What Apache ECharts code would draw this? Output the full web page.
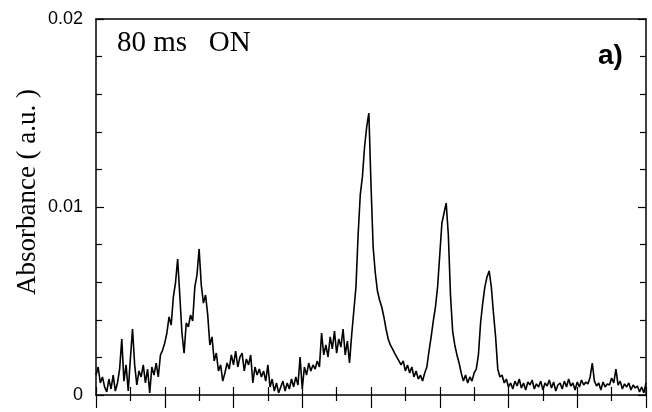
<!DOCTYPE html>
<html>
<head>
<meta charset="utf-8">
<script src="https://cdn.jsdelivr.net/npm/echarts@6/dist/echarts.min.js"></script>
<style>
  html, body { margin: 0; padding: 0; background: #fff; }
  #chart { width: 652px; height: 412px; }
</style>
</head>
<body>
<div id="chart"></div>
<script>
// absorbance trace, one sample per ~2 px along the x axis
const absorbance = [
  0.00106, 0.00149, 0.00064, 0.00096, 0.00043, 0.00016, 0.00085, 0.00032, 0.00106, 0.00021,
  0.00064, 0.00138, 0.00298, 0.00074, 0.00160, 0.00021, 0.00192, 0.00351, 0.00160, 0.00053,
  0.00128, 0.00096, 0.00160, 0.00064, 0.00138, 0.00011, 0.00149, 0.00106, 0.00170, 0.00096,
  0.00213, 0.00239, 0.00277, 0.00330, 0.00415, 0.00372, 0.00521, 0.00596, 0.00723, 0.00532,
  0.00330, 0.00223, 0.00383, 0.00362, 0.00426, 0.00394, 0.00575, 0.00638, 0.00777, 0.00585,
  0.00489, 0.00532, 0.00426, 0.00266, 0.00309, 0.00181, 0.00223, 0.00128, 0.00160, 0.00074,
  0.00117, 0.00170, 0.00138, 0.00213, 0.00160, 0.00234, 0.00149, 0.00202, 0.00223, 0.00128,
  0.00192, 0.00160, 0.00213, 0.00064, 0.00149, 0.00106, 0.00138, 0.00096, 0.00128, 0.00074,
  0.00160, 0.00043, 0.00085, 0.00021, 0.00064, 0.00011, 0.00043, 0.00074, 0.00021, 0.00064,
  0.00032, 0.00085, 0.00043, 0.00096, 0.00053, 0.00202, 0.00032, 0.00149, 0.00106, 0.00170,
  0.00128, 0.00160, 0.00138, 0.00181, 0.00149, 0.00330, 0.00213, 0.00266, 0.00202, 0.00309,
  0.00245, 0.00340, 0.00223, 0.00298, 0.00255, 0.00351, 0.00213, 0.00287, 0.00170, 0.00319,
  0.00447, 0.00575, 0.00851, 0.01064, 0.01160, 0.01319, 0.01426, 0.01500, 0.01117, 0.00787,
  0.00649, 0.00553, 0.00505, 0.00468, 0.00415, 0.00351, 0.00298, 0.00266, 0.00245, 0.00223,
  0.00202, 0.00181, 0.00160, 0.00181, 0.00128, 0.00160, 0.00117, 0.00149, 0.00096, 0.00128,
  0.00085, 0.00106, 0.00074, 0.00117, 0.00149, 0.00234, 0.00309, 0.00394, 0.00468, 0.00575,
  0.00745, 0.00915, 0.00968, 0.01021, 0.00851, 0.00532, 0.00340, 0.00266, 0.00213, 0.00170,
  0.00117, 0.00074, 0.00106, 0.00064, 0.00096, 0.00074, 0.00117, 0.00138, 0.00213, 0.00383,
  0.00489, 0.00575, 0.00628, 0.00660, 0.00575, 0.00436, 0.00309, 0.00138, 0.00096, 0.00106,
  0.00064, 0.00085, 0.00043, 0.00064, 0.00032, 0.00074, 0.00048, 0.00085, 0.00037, 0.00064,
  0.00027, 0.00069, 0.00053, 0.00080, 0.00032, 0.00059, 0.00043, 0.00074, 0.00027, 0.00064,
  0.00048, 0.00080, 0.00037, 0.00069, 0.00021, 0.00053, 0.00064, 0.00032, 0.00074, 0.00043,
  0.00085, 0.00048, 0.00064, 0.00027, 0.00069, 0.00043, 0.00080, 0.00053, 0.00069, 0.00059,
  0.00096, 0.00170, 0.00074, 0.00048, 0.00064, 0.00027, 0.00069, 0.00043, 0.00059, 0.00053,
  0.00090, 0.00064, 0.00138, 0.00053, 0.00074, 0.00032, 0.00059, 0.00043, 0.00064, 0.00027,
  0.00053, 0.00037, 0.00048, 0.00016, 0.00043, 0.00011, 0.00064
];
const yTicks = [0, 0.01, 0.02];
const xMajorCount = 8; // long ticks along the bottom, each split in two

const yTitle = 'Absorbance ( a.u. )';
const condition = '80 ms   ON';
const panel = 'a)';

const chart = echarts.init(document.getElementById('chart'));

const last = absorbance.length - 1;
const points = absorbance.map((v, i) => [i, v]);
const black = { color: '#000', width: 1.5 };
const tickStyle = { color: '#000', width: 1.2 };

chart.setOption({
  animation: false,
  backgroundColor: '#fff',
  grid: { left: 96, right: 6, top: 19, bottom: 17 },
  xAxis: [
    { // bottom axis, ticks hanging below
      type: 'value', position: 'bottom', min: 0, max: last, interval: last / xMajorCount,
      axisLine: { show: true, onZero: false, lineStyle: black },
      axisTick: { show: true, inside: false, length: 13, lineStyle: tickStyle },
      minorTick: { show: true, splitNumber: 2, length: 6, lineStyle: tickStyle },
      axisLabel: { show: false },
      splitLine: { show: false }
    },
    { // same axis, the part of the ticks that pokes up into the plot
      type: 'value', position: 'bottom', min: 0, max: last, interval: last / xMajorCount,
      axisLine: { show: false, onZero: false },
      axisTick: { show: true, inside: true, length: 8, lineStyle: tickStyle },
      minorTick: { show: true, splitNumber: 2, length: 8, lineStyle: tickStyle },
      axisLabel: { show: false },
      splitLine: { show: false }
    },
    { // top frame
      type: 'value', position: 'top', min: 0, max: last,
      axisLine: { show: true, onZero: false, lineStyle: black },
      axisTick: { show: false },
      axisLabel: { show: false },
      splitLine: { show: false }
    }
  ],
  yAxis: [
    {
      type: 'value', position: 'left',
      min: yTicks[0], max: yTicks[yTicks.length - 1], interval: yTicks[1] - yTicks[0],
      axisLine: { show: true, onZero: false, lineStyle: black },
      axisTick: { show: true, inside: true, length: 8, lineStyle: tickStyle },
      minorTick: { show: true, splitNumber: 5, length: 6, lineStyle: tickStyle },
      axisLabel: { color: '#000', fontFamily: 'Liberation Sans', fontSize: 18, margin: 13 },
      splitLine: { show: false }
    },
    {
      type: 'value', position: 'right',
      min: yTicks[0], max: yTicks[yTicks.length - 1], interval: yTicks[1] - yTicks[0],
      axisLine: { show: true, onZero: false, lineStyle: black },
      axisTick: { show: true, inside: true, length: 8, lineStyle: tickStyle },
      minorTick: { show: true, splitNumber: 5, length: 6, lineStyle: tickStyle },
      axisLabel: { show: false },
      splitLine: { show: false }
    }
  ],
  series: [{
    type: 'line',
    xAxisIndex: 0,
    yAxisIndex: 0,
    data: points,
    showSymbol: false,
    lineStyle: { color: '#000', width: 1.6 },
    silent: true
  }],
  graphic: [
    {
      type: 'text', x: 28, y: 192, rotation: Math.PI / 2,
      style: { text: yTitle, fill: '#000', font: '27px "Liberation Serif"', align: 'center', verticalAlign: 'middle' }
    },
    {
      type: 'text', x: 117, y: 43,
      style: { text: condition, fill: '#000', font: '29px "Liberation Serif"', align: 'left', verticalAlign: 'middle' }
    },
    {
      type: 'text', x: 598, y: 56,
      style: { text: panel, fill: '#000', font: 'bold 28px "Liberation Sans"', align: 'left', verticalAlign: 'middle' }
    }
  ]
});
</script>
</body>
</html>
